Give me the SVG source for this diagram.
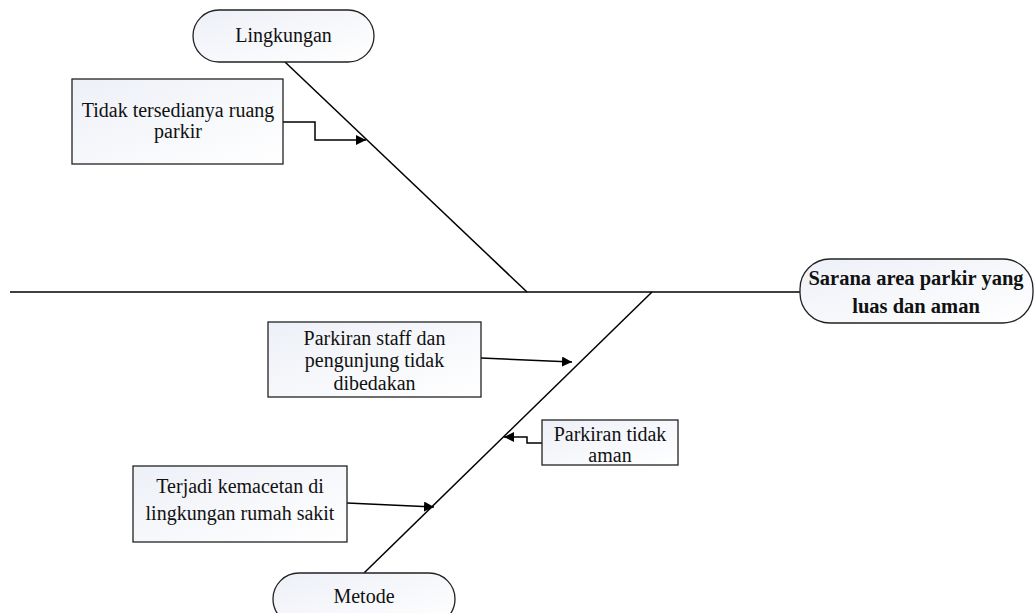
<svg xmlns="http://www.w3.org/2000/svg" width="1035" height="613" viewBox="0 0 1035 613">
  <style>
    .box { stroke: #222; stroke-width: 1.3; fill: url(#fillGrad); }
    .line { stroke: #000; stroke-width: 1.5; fill: none; }
    .arrow { stroke: #000; stroke-width: 1.5; fill: none; marker-end: url(#head); }
    text { font-family: "Liberation Serif", "Times New Roman", serif; font-size: 20px; fill: #111; text-anchor: middle; }
    .bold { font-weight: bold; font-size: 20.5px; }
  </style>
  <defs>
    <linearGradient id="fillGrad" x1="0" y1="0" x2="1" y2="1">
      <stop offset="0" stop-color="#edf0f7"/>
      <stop offset="1" stop-color="#ffffff"/>
    </linearGradient>
    <marker id="head" viewBox="0 0 10 10" refX="10" refY="5" markerWidth="10" markerHeight="10" markerUnits="userSpaceOnUse" orient="auto">
      <path d="M0,0 L10,5 L0,10 z" fill="#000"/>
    </marker>
  </defs>

  <!-- spine and bones -->
  <g id="connectors">
    <line class="line" x1="10" y1="292" x2="800" y2="292"/>
    <line class="line" x1="285" y1="62" x2="527" y2="292"/>
    <line class="line" x1="652" y1="292" x2="364" y2="573"/>
    <polyline class="arrow" points="283,122 315,122 315,140 366,140"/>
    <polyline class="arrow" points="481,358 572,362"/>
    <polyline class="arrow" points="542,443 527,443 527,437 504,437"/>
    <polyline class="arrow" points="347,503 434,507"/>
  </g>

  <g id="lingkungan">
    <rect class="box" x="193" y="10" width="181" height="52" rx="26" ry="26"/>
    <text x="283.5" y="42">Lingkungan</text>
  </g>

  <g id="ruang-parkir">
    <rect class="box" x="72" y="79" width="211" height="85"/>
    <text x="178" y="117">Tidak tersedianya ruang</text>
    <text x="178" y="138">parkir</text>
  </g>

  <g id="effect">
    <rect class="box" x="800" y="259" width="233" height="64" rx="30" ry="30"/>
    <text class="bold" x="916" y="285">Sarana area parkir yang</text>
    <text class="bold" x="916" y="313">luas dan aman</text>
  </g>

  <g id="staff-pengunjung">
    <rect class="box" x="268" y="322" width="213" height="75"/>
    <text x="374.5" y="345">Parkiran staff dan</text>
    <text x="374.5" y="367">pengunjung tidak</text>
    <text x="374.5" y="390">dibedakan</text>
  </g>

  <g id="tidak-aman">
    <rect class="box" x="542" y="420" width="136" height="45"/>
    <text x="610" y="441">Parkiran tidak</text>
    <text x="610" y="462">aman</text>
  </g>

  <g id="kemacetan">
    <rect class="box" x="133" y="466" width="214" height="76"/>
    <text x="240" y="493">Terjadi kemacetan di</text>
    <text x="240" y="520">lingkungan rumah sakit</text>
  </g>

  <g id="metode">
    <rect class="box" x="273" y="573" width="182" height="52" rx="26" ry="26"/>
    <text x="364" y="603">Metode</text>
  </g>
</svg>
